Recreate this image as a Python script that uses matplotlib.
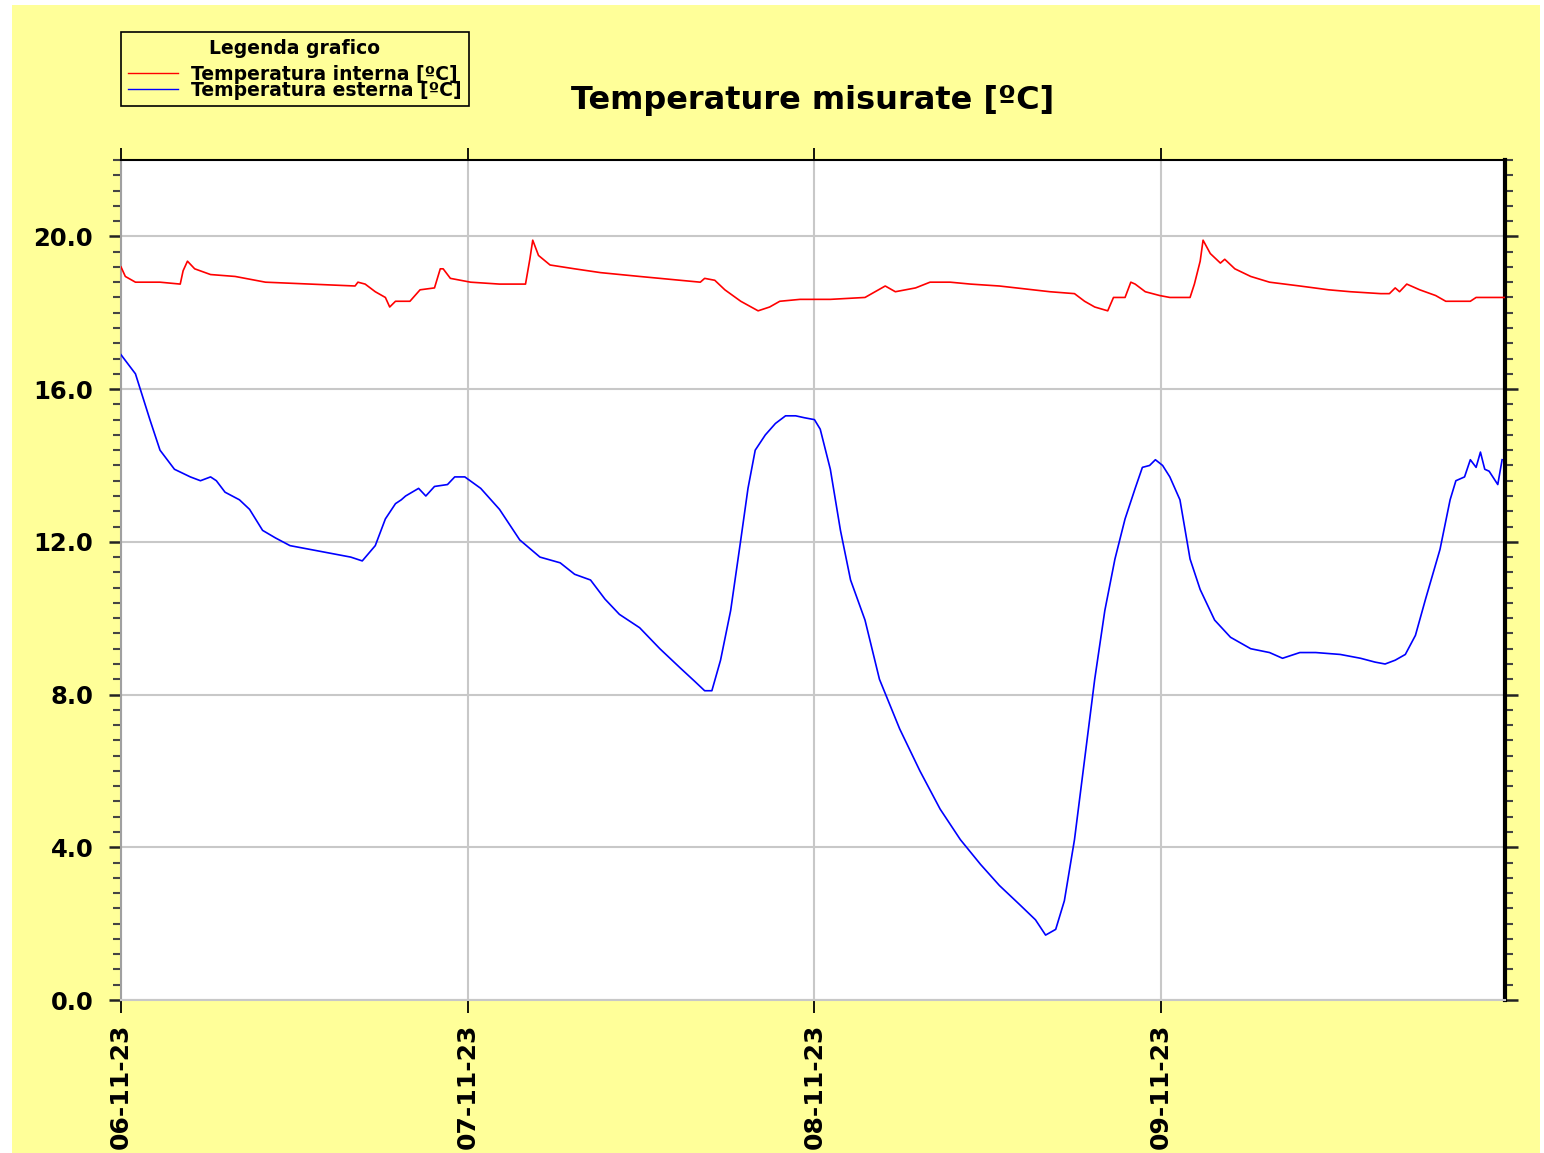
import numpy as np
import matplotlib
matplotlib.use("Agg")
from matplotlib import pyplot as plt
from matplotlib.patches import Rectangle
from matplotlib.ticker import MultipleLocator

# ore trascorse dalle 00:00 del 06-11-23
ore_est = [0, 1.0, 2.0, 2.7, 3.7, 4.8, 5.5, 6.2, 6.6, 7.2, 8.2, 8.9, 9.8, 10.7, 11.7, 13.1,
           14.5, 15.9, 16.7, 17.6, 18.3, 19.0, 19.4, 19.7, 20.6, 21.1, 21.7, 22.6, 23.1, 23.8,
           24.9, 26.2, 27.6, 29.0, 30.4, 31.4, 32.5, 33.5, 34.5, 35.9, 37.3, 38.7, 39.7, 40.4,
           40.9, 41.5, 42.2, 42.9, 43.4, 43.9, 44.6, 45.3, 46.0, 46.7, 47.3, 48.0, 48.4, 49.1,
           49.8, 50.5, 51.5, 52.5, 53.9, 55.3, 56.7, 58.1, 59.5, 60.8, 62.2, 63.3, 64.0, 64.7,
           65.3, 66.0, 66.7, 67.4, 68.1, 68.8, 69.5, 70.2, 70.7, 71.2, 71.6, 72.1, 72.6, 73.3,
           74.0, 74.7, 75.7, 76.8, 78.2, 79.5, 80.4, 81.6, 82.7, 84.4, 85.8, 86.8, 87.5, 88.2,
           88.9, 89.6, 90.3, 91.3, 92.0, 92.4, 93.0, 93.4, 93.8, 94.1, 94.4, 94.7, 95.3, 95.6]
temp_esterna = [16.9, 16.4, 15.2, 14.4, 13.9, 13.7, 13.6, 13.7, 13.6, 13.3, 13.1, 12.85, 12.3, 12.1, 11.9, 11.8,
                11.7, 11.6, 11.5, 11.9, 12.6, 13.0, 13.1, 13.2, 13.4, 13.2, 13.45, 13.5, 13.7, 13.7,
                13.4, 12.85, 12.05, 11.6, 11.45, 11.15, 11.0, 10.5, 10.1, 9.75, 9.2, 8.7, 8.35, 8.1,
                8.1, 8.9, 10.2, 12.05, 13.4, 14.4, 14.8, 15.1, 15.3, 15.3, 15.25, 15.2, 14.95, 13.9,
                12.3, 11.0, 9.95, 8.4, 7.1, 6.0, 5.0, 4.2, 3.55, 3.0, 2.5, 2.1, 1.7, 1.85,
                2.6, 4.2, 6.3, 8.4, 10.2, 11.55, 12.6, 13.4, 13.95, 14.0, 14.15, 14.0, 13.7, 13.1,
                11.55, 10.75, 9.95, 9.5, 9.2, 9.1, 8.95, 9.1, 9.1, 9.05, 8.95, 8.85, 8.8, 8.9,
                9.05, 9.55, 10.5, 11.8, 13.1, 13.6, 13.7, 14.15, 13.95, 14.35, 13.9, 13.85, 13.5, 14.15]

ore_int = [0, 0.3, 1.0, 2.7, 4.1, 4.3, 4.6, 5.1, 6.2, 7.9, 10.0, 13.1, 16.2, 16.4, 16.9, 17.6,
           18.3, 18.6, 19.0, 20.0, 20.7, 21.7, 22.1, 22.3, 22.8, 24.2, 26.2, 28.0, 28.3, 28.5,
           28.9, 29.7, 31.4, 33.2, 35.9, 38.7, 40.1, 40.4, 41.1, 41.8, 42.9, 44.1, 44.9, 45.6,
           47.0, 49.1, 51.5, 52.9, 53.6, 55.0, 56.0, 57.4, 58.8, 60.8, 64.3, 66.0, 66.7, 67.4,
           68.3, 68.7, 69.5, 69.9, 70.2, 70.9, 71.9, 72.6, 74.0, 74.3, 74.7, 74.9, 75.4, 76.1,
           76.4, 77.1, 78.2, 79.5, 81.6, 83.6, 85.1, 87.2, 87.8, 88.2, 88.5, 89.0, 89.9, 91.0,
           91.7, 93.4, 93.8, 95.8]
temp_interna = [19.2, 18.95, 18.8, 18.8, 18.75, 19.1, 19.35, 19.15, 19.0, 18.95, 18.8, 18.75, 18.7, 18.8, 18.75, 18.55,
                18.4, 18.15, 18.3, 18.3, 18.6, 18.65, 19.15, 19.15, 18.9, 18.8, 18.75, 18.75, 19.4, 19.9,
                19.5, 19.25, 19.15, 19.05, 18.95, 18.85, 18.8, 18.9, 18.85, 18.6, 18.3, 18.05, 18.15, 18.3,
                18.35, 18.35, 18.4, 18.7, 18.55, 18.65, 18.8, 18.8, 18.75, 18.7, 18.55, 18.5, 18.3, 18.15,
                18.05, 18.4, 18.4, 18.8, 18.75, 18.55, 18.45, 18.4, 18.4, 18.75, 19.35, 19.9, 19.55, 19.3,
                19.4, 19.15, 18.95, 18.8, 18.7, 18.6, 18.55, 18.5, 18.5, 18.65, 18.55, 18.75, 18.6, 18.45,
                18.3, 18.3, 18.4, 18.4]

giorni = ["06-11-23", "07-11-23", "08-11-23", "09-11-23"]

giallo = "#FFFF99"
W, H = 1544, 1153
fig = plt.figure(figsize=(W / 100, H / 100), dpi=100, facecolor="white")
# sfondo giallo con un piccolo bordo bianco
fig.patches.append(Rectangle((12 / W, 0), (1540 - 12) / W, 1 - 5 / H,
                             transform=fig.transFigure, facecolor=giallo, edgecolor="none", zorder=-10))

ax = fig.add_axes([121 / W, 1 - 1000 / H, (1505 - 121) / W, (1000 - 160) / H])
ax.set_facecolor("white")

l1, = ax.plot(ore_int, temp_interna, color="#FF0000", lw=1.2, label="Temperatura interna [ºC]", zorder=3)
l2, = ax.plot(ore_est, temp_esterna, color="#0000FF", lw=1.2, label="Temperatura esterna [ºC]", zorder=3)

ax.set_xlim(0, 95.8)
ax.set_xticks([0, 24, 48, 72])
ax.set_xticklabels(giorni, rotation=90, fontsize=18, fontweight="bold", va="top", ha="center")
ax.yaxis.set_major_locator(MultipleLocator(4))
ax.yaxis.set_minor_locator(MultipleLocator(0.4))
ax.set_ylim(0, 22)
ax.set_yticks([0, 4, 8, 12, 16, 20])
ax.set_yticklabels(["0.0", "4.0", "8.0", "12.0", "16.0", "20.0"], fontsize=17.5, fontweight="bold")

ax.grid(True, which="major", color="#C8C8C8", lw=1.5, zorder=1)
ax.tick_params(axis="x", which="major", direction="out", length=9, width=1.3, color="black",
               top=True, bottom=True, pad=8)
ax.tick_params(axis="y", which="major", direction="out", length=9, width=1.8, color="#222222",
               left=True, right=True, pad=11)
ax.tick_params(axis="y", which="minor", direction="out", length=5.5, width=1.5, color="#444444",
               left=True, right=True)

ax.spines["top"].set_color("black")
ax.spines["top"].set_linewidth(1.5)
ax.spines["right"].set_color("black")
ax.spines["right"].set_linewidth(3)
ax.spines["left"].set_color("#A0A0A0")
ax.spines["left"].set_linewidth(1.5)
ax.spines["bottom"].set_color("#C8C8C8")
ax.spines["bottom"].set_linewidth(1.5)

fig.text(813 / W, 1 - 100 / H, "Temperature misurate [ºC]", ha="center", va="center",
         fontsize=23, fontweight="bold")

leg = fig.legend(handles=[l1, l2], loc="upper left", bbox_to_anchor=(121 / W, 1 - 32 / H),
                 title="Legenda grafico", fontsize=13.5, title_fontsize=13.5,
                 frameon=True, fancybox=False, edgecolor="black", facecolor=giallo, framealpha=1,
                 labelspacing=-0.15, handlelength=2.7, handletextpad=0.7, borderpad=0.35,
                 borderaxespad=0)
leg.get_frame().set_linewidth(1.2)
leg._legend_box.sep = 5
for t in leg.get_texts():
    t.set_fontweight("bold")
leg.get_title().set_fontweight("bold")
for h in leg.legend_handles:
    h.set_linewidth(1.0)

fig.savefig("out.png", dpi=100, facecolor=fig.get_facecolor())
